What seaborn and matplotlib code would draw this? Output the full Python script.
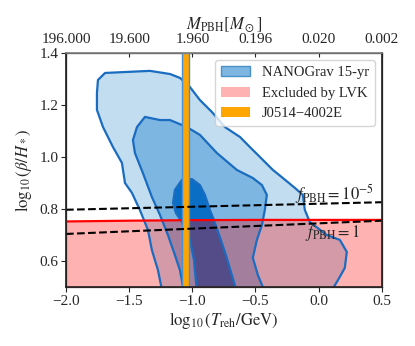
import numpy as np
import matplotlib
matplotlib.use("Agg")
import matplotlib.pyplot as plt
import seaborn as sns
import pandas as pd
from matplotlib.patches import Patch

# ---------------- data ----------------
outer_x = [-1.240, -1.272, -1.320, -1.351, -1.415, -1.478, -1.533, -1.557, -1.628, -1.707, -1.755, -1.755,
           -1.747, -1.691, -1.517, -1.335, -1.177, -1.098, -1.019, -0.940, -0.845, -0.742, -0.623, -0.544,
           -0.465, -0.362, -0.283, -0.188, -0.125, -0.109, -0.070, 0.065, 0.168, 0.223, 0.207, 0.144, 0.104]
outer_y = [0.488, 0.565, 0.642, 0.719, 0.796, 0.862, 0.900, 0.977, 1.038, 1.115, 1.181, 1.246,
           1.296, 1.323, 1.327, 1.331, 1.319, 1.304, 1.269, 1.219, 1.173, 1.115, 1.077, 1.038,
           1.000, 0.950, 0.919, 0.881, 0.854, 0.796, 0.750, 0.700, 0.681, 0.635, 0.573, 0.519, 0.488]

mid_x = [-1.066, -1.098, -1.138, -1.193, -1.256, -1.320, -1.391, -1.454, -1.470, -1.438, -1.375, -1.256,
         -1.177, -1.043, -0.940, -0.805, -0.647, -0.521, -0.449, -0.410, -0.426, -0.449, -0.489, -0.521,
         -0.481, -0.426]
mid_y = [0.481, 0.565, 0.623, 0.700, 0.777, 0.846, 0.938, 1.015, 1.065, 1.115, 1.154, 1.142,
         1.142, 1.115, 1.085, 1.015, 0.950, 0.919, 0.892, 0.854, 0.796, 0.738, 0.681, 0.612,
         0.546, 0.481]

inner_x = [-0.964, -0.987, -1.019, -1.082, -1.130, -1.153, -1.138, -1.082, -1.003, -0.940, -0.900,
           -0.861, -0.829, -0.782, -0.734, -0.687, -0.647]
inner_y = [0.481, 0.604, 0.681, 0.750, 0.785, 0.823, 0.873, 0.912, 0.915, 0.892, 0.854,
           0.796, 0.758, 0.692, 0.623, 0.546, 0.481]

lvk_x = [-2.0, -1.5, -1.0, -0.5, 0.0, 0.5]
lvk_y = [0.752, 0.755, 0.757, 0.758, 0.758, 0.758]

f5_x = [-2.0, 0.5]
f5_y = [0.797, 0.826]
f1_x = [-2.0, 0.5]
f1_y = [0.704, 0.755]

pulsar_lo, pulsar_hi = -1.08, -1.03

mass_ticks = [196.0, 19.6, 1.96, 0.196, 0.0196, 0.00196]
mass_labels = ["196.000", "19.600", "1.960", "0.196", "0.020", "0.002"]

# ---------------- style ----------------
sns.set_theme(style="ticks")
plt.rcParams["font.family"] = ["Liberation Serif", "DejaVu Serif"]
plt.rcParams["mathtext.fontset"] = "stix"
plt.rcParams["font.size"] = 11

fig = plt.figure(figsize=(4.15, 3.46), dpi=100)
ax = fig.add_axes([0.159, 0.1705, 0.761, 0.6765])

c_light = "#c2ddf0"
c_mid = "#7db6e1"
c_dark = "#0a6ec4"
c_edge = "#1a6cc0"

for cx, cy, fc, z in [(outer_x, outer_y, c_light, 1), (mid_x, mid_y, c_mid, 2), (inner_x, inner_y, c_dark, 3)]:
    ax.fill(cx, cy, facecolor=fc, edgecolor="none", zorder=z)
    ax.plot(list(cx) + [cx[0]], list(cy) + [cy[0]], color=c_edge, lw=1.6, zorder=4.5)

# LVK excluded region
ax.fill_between(lvk_x, 0.0, lvk_y, color="red", alpha=0.3, lw=0, zorder=4)
df_lvk = pd.DataFrame({"x": lvk_x, "y": lvk_y})
sns.lineplot(data=df_lvk, x="x", y="y", color="red", lw=1.6, ax=ax, zorder=5)

# pulsar band
ax.axvspan(pulsar_lo, pulsar_hi, facecolor="orange", edgecolor="#4a8fd0", lw=1.0, zorder=6)

# f_PBH lines
sns.lineplot(x=f5_x, y=f5_y, color="black", ls="--", lw=1.5, ax=ax, zorder=7)
sns.lineplot(x=f1_x, y=f1_y, color="black", ls="--", lw=1.5, ax=ax, zorder=7)
ax.text(-0.19, 0.858, r"$f_{\rm PBH}=10^{-5}$", fontsize=12, va="center", ha="left", zorder=8)
ax.text(-0.11, 0.708, r"$f_{\rm PBH}=1$", fontsize=12, va="center", ha="left", zorder=8)

ax.set_xlim(-2.0, 0.5)
ax.set_ylim(0.5, 1.4)
ax.set_xticks([-2.0, -1.5, -1.0, -0.5, 0.0, 0.5])
ax.set_xticklabels(["\u22122.0", "\u22121.5", "\u22121.0", "\u22120.5", "0.0", "0.5"])
ax.set_yticks([0.6, 0.8, 1.0, 1.2, 1.4])
ax.set_xlabel(r"$\log_{10}(T_{\rm reh}/{\rm GeV})$", fontsize=12, labelpad=2)
ax.set_ylabel(r"$\log_{10}(\beta/H_*)$", fontsize=12, labelpad=4)
ax.tick_params(direction="out", length=3.5, width=0.8, labelsize=11, pad=2)
for s in ax.spines.values():
    s.set_linewidth(0.9)
ax.spines["bottom"].set_color("#333333")

handles = [Patch(facecolor=c_mid, edgecolor="#4a90c8", label="NANOGrav 15-yr"),
           Patch(facecolor="red", alpha=0.3, edgecolor="none", label="Excluded by LVK"),
           Patch(facecolor="orange", edgecolor="none", label="J0514\u22124002E")]
ax.legend(handles=handles, loc="upper right", fontsize=10.5, frameon=True,
          borderaxespad=0.5, handlelength=2.0)

# top axis
ax2 = ax.twiny()
ax2.set_xlim(ax.get_xlim())
top_pos = [-1.0 - 0.5 * np.log10(m / 1.96) for m in mass_ticks]
ax2.set_xticks(top_pos)
ax2.set_xticklabels(mass_labels)
ax2.set_xlabel(r"$M_{\rm PBH}[M_\odot]$", fontsize=12, labelpad=3)
ax2.tick_params(direction="in", length=3, width=0.8, labelsize=11, pad=5)
ax2.spines["top"].set_color("#808080")
ax2.spines["top"].set_linewidth(1.2)

fig.savefig("out.png", dpi=100)
